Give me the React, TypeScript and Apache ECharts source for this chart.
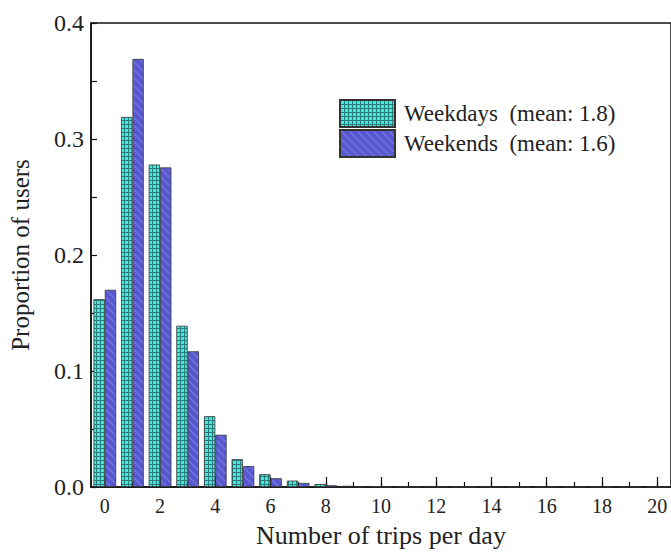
import React, { useEffect, useRef } from "react";
import * as echarts from "echarts";

const categories: string[] = ["0","1","2","3","4","5","6","7","8","9","10","11","12","13","14","15","16","17","18","19","20"];
const weekdays: number[] = [0.162, 0.319, 0.278, 0.139, 0.061, 0.024, 0.011, 0.0055, 0.0025, 0.001, 0.0006, 0.0004, 0.0003, 0.0002, 0.0002, 0.0001, 0.0001, 0.0001, 0.0001, 0.0001, 0.0001];
const weekends: number[] = [0.170, 0.369, 0.2755, 0.117, 0.045, 0.018, 0.0075, 0.0035, 0.0015, 0.0007, 0.0004, 0.0003, 0.0002, 0.0001, 0.0001, 0.0001, 0.0001, 0.0001, 0.0001, 0.0001, 0.0001];
const seriesNames: string[] = ["Weekdays\u00a0\u00a0(mean: 1.8)", "Weekends\u00a0\u00a0(mean: 1.6)"];
const yTicks: number[] = [0, 0.1, 0.2, 0.3, 0.4];

function makeGridPattern() {
  const c = document.createElement("canvas");
  c.width = 4; c.height = 4;
  const ctx = c.getContext("2d")!;
  ctx.fillStyle = "#48e6dc";
  ctx.fillRect(0, 0, 4, 4);
  ctx.fillStyle = "#2c7c7c";
  ctx.fillRect(0, 0, 4, 1);
  ctx.fillRect(0, 0, 1, 4);
  return { image: c.toDataURL(), repeat: "repeat", imageWidth: 4, imageHeight: 4 } as any;
}

function makeHatchPattern() {
  const s = 8;
  const c = document.createElement("canvas");
  c.width = s; c.height = s;
  const ctx = c.getContext("2d")!;
  ctx.fillStyle = "#5757d0";
  ctx.fillRect(0, 0, s, s);
  ctx.strokeStyle = "#7373e0";
  ctx.lineWidth = 1.5;
  ctx.beginPath();
  ctx.moveTo(-2, -2); ctx.lineTo(s + 2, s + 2);
  ctx.moveTo(-2 - s, -2); ctx.lineTo(2, s + 2);
  ctx.moveTo(s - 2, -2); ctx.lineTo(2 * s + 2, s + 2);
  ctx.stroke();
  return { image: c.toDataURL(), repeat: "repeat", imageWidth: s, imageHeight: s } as any;
}

export default function App() {
  const ref = useRef<HTMLDivElement>(null);
  useEffect(() => {
    document.body.style.margin = "0";
    document.body.style.overflow = "hidden";
    document.documentElement.style.overflow = "hidden";
    const chart = echarts.init(ref.current!, null, { renderer: "svg" });
    const font = "'Liberation Serif', 'Times New Roman', serif";
    const gridPat = makeGridPattern();
    const hatchPat = makeHatchPattern();
    chart.setOption({
      animation: false,
      backgroundColor: "#ffffff",
      grid: {
        left: 90, top: 23, width: 586, height: 471,
        show: true, borderColor: "#111", borderWidth: 1.5, backgroundColor: "transparent",
      },
      legend: {
        orient: "vertical",
        left: 339, top: 99,
        itemWidth: 55, itemHeight: 27, itemGap: 1,
        padding: 0,
        icon: "rect",
        data: seriesNames,
        textStyle: { fontFamily: font, fontSize: 23, color: "#222", padding: [0, 0, 0, 4] },
      },
      xAxis: [
        {
          type: "category",
          data: categories,
          boundaryGap: true,
          axisLine: { show: true, lineStyle: { color: "#111", width: 1.5 } },
          axisTick: { show: true, inside: true, alignWithLabel: true, interval: 0, length: 5, lineStyle: { color: "#111", width: 1.2 } },
          axisLabel: { interval: 1, fontFamily: font, fontSize: 20, color: "#222", margin: 9 },
          name: "Number of trips per day",
          nameLocation: "middle",
          nameGap: 35,
          nameTextStyle: { fontFamily: font, fontSize: 26, color: "#222" },
        },
        {
          type: "category",
          data: categories,
          position: "bottom",
          boundaryGap: true,
          axisLine: { show: false },
          axisTick: { show: true, inside: true, alignWithLabel: true, interval: 1, length: 10, lineStyle: { color: "#111", width: 1.2 } },
          axisLabel: { show: false },
        },
      ],
      yAxis: {
        type: "value",
        min: 0, max: 0.4, interval: 0.1,
        axisLine: { show: true, lineStyle: { color: "#111", width: 1.5 } },
        axisTick: { show: true, inside: true, length: 6, lineStyle: { color: "#111", width: 1.2 } },
        minorTick: { show: true, splitNumber: 2, length: 6, lineStyle: { color: "#111", width: 1.2 } },
        splitLine: { show: false },
        axisLabel: {
          fontFamily: font, fontSize: 24, color: "#222", margin: 7,
          formatter: (v: number) => (yTicks.indexOf(Math.round(v * 10) / 10) >= 0 ? v.toFixed(1) : ""),
        },
        name: "Proportion of users",
        nameLocation: "middle",
        nameGap: 58,
        nameTextStyle: { fontFamily: font, fontSize: 25, color: "#222" },
      },
      series: [
        {
          name: seriesNames[0],
          type: "bar",
          xAxisIndex: 0,
          data: weekdays,
          barWidth: "41%",
          barGap: "0%",
          itemStyle: { color: gridPat, borderColor: "#333", borderWidth: 0.8 },
        },
        {
          name: seriesNames[1],
          type: "bar",
          xAxisIndex: 0,
          data: weekends,
          barWidth: "41%",
          barGap: "0%",
          itemStyle: { color: hatchPat, borderColor: "#333", borderWidth: 0.8 },
        },
      ],
    });
    return () => chart.dispose();
  }, []);
  return <div ref={ref} style={{ width: 671, height: 553, overflow: "hidden" }} />;
}
